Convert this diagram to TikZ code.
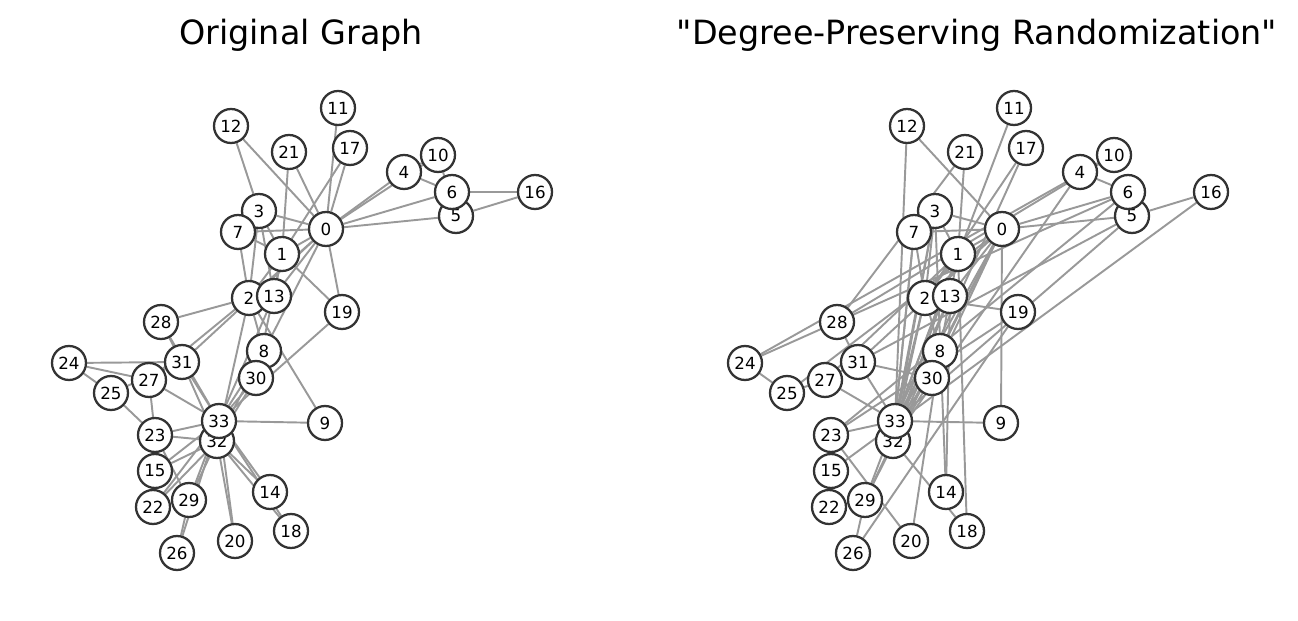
\documentclass[tikz,border=0pt]{standalone}
\usepackage{fontspec}
\setmainfont{DejaVu Sans}[Ligatures=TeXOff]
\usepackage{tikz}
\usetikzlibrary{backgrounds}
\definecolor{edgeGray}{HTML}{999999}
\definecolor{rimGray}{HTML}{333333}

\begin{document}
\begin{tikzpicture}[
    x=0.02cm, y=-0.02cm,
    vertex/.style={circle, draw=rimGray, fill=white, line width=1.3pt, minimum size=0.68cm,
                   inner sep=0pt, font=\fontsize{9.5}{10}\selectfont},
    link/.style={draw=edgeGray, line width=1.1pt},
    heading/.style={font=\fontsize{19}{22}\selectfont},
]

\useasboundingbox (0,0) rectangle (1298,621);

% Titles
\node[heading] (origtitle) at (301,35) {Original Graph};
\node[heading] (randtitle) at (977,35) {"Degree-Preserving Randomization"};

% Vertices (same layout on both sides)
\foreach \n/\px/\py in {0/326/229, 1/282/254, 2/249/298, 3/259/211, 4/404/172, 5/456/216,
    6/452/192, 7/238/232, 8/264/351, 9/325/423, 10/438/155, 11/338/108, 12/231/126,
    13/274/296, 14/270/492, 15/155/471, 16/535/192, 17/350/148, 18/291/531, 19/342/312,
    20/235/541, 21/289/152, 22/153/507, 23/155/435, 24/69/363, 25/111/393, 26/177/553,
    27/149/380, 28/161/322, 29/189/500, 30/256/378, 31/182/362, 32/217/441, 33/219/421} {
  \node[vertex] (o\n) at (\px,\py) {\n};
  \node[vertex] (r\n) at (\px+676,\py) {\n};
}

% Original edges
\begin{scope}[on background layer]
\foreach \a/\b in {0/1, 0/2, 0/3, 0/4, 0/5, 0/6, 0/7, 0/8, 0/10, 0/11, 0/12, 0/13, 0/17, 0/19,
    0/21, 0/31, 1/2, 1/3, 1/7, 1/13, 1/17, 1/19, 1/21, 1/30, 2/3, 2/7, 2/8, 2/9, 2/13, 2/27,
    2/28, 2/32, 3/7, 3/12, 3/13, 4/6, 4/10, 5/6, 5/10, 5/16, 6/16, 8/30, 8/32, 8/33, 9/33,
    13/33, 14/32, 14/33, 15/32, 15/33, 18/32, 18/33, 19/33, 20/32, 20/33, 22/32, 22/33,
    23/25, 23/27, 23/29, 23/32, 23/33, 24/25, 24/27, 24/31, 25/31, 26/29, 26/33, 27/33,
    28/31, 28/33, 29/32, 29/33, 30/32, 30/33, 31/32, 31/33, 32/33}
  \draw[link] (o\a) -- (o\b);

% Randomized edges
\foreach \a/\b in {11/33, 12/33, 0/12, 21/28, 1/21, 2/17, 17/32, 0/9, 9/33, 5/16, 15/16,
    4/6, 4/10, 10/24, 10/28, 24/25, 6/24, 25/27, 0/25, 27/31, 27/33, 28/31, 15/22, 22/23,
    20/23, 8/20, 1/18, 18/32, 13/14, 3/14, 26/29, 19/26, 2/19, 19/23, 0/5, 5/31, 0/6, 6/23,
    4/32, 0/33, 1/33, 2/33, 3/33, 7/33, 8/33, 13/33, 30/33, 31/33, 29/33, 32/33, 5/33, 23/33,
    0/32, 1/32, 2/32, 3/32, 7/32, 13/32, 29/32, 30/32, 0/1, 0/2, 0/3, 0/7, 0/8, 0/13, 0/29,
    0/30, 0/31, 1/2, 1/3, 1/8, 1/27, 2/3, 2/7, 2/8, 2/13, 30/31}
  \draw[link] (r\a) -- (r\b);
\end{scope}

\end{tikzpicture}
\end{document}
